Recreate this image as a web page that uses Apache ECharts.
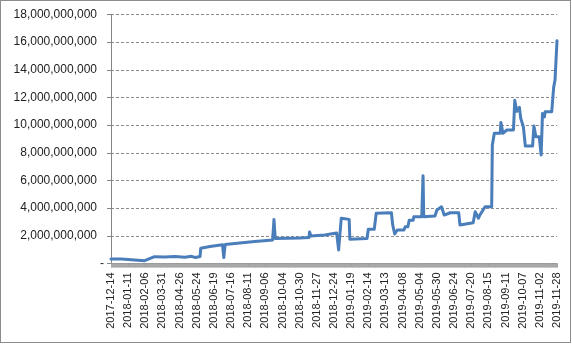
<!DOCTYPE html>
<html>
<head>
<meta charset="utf-8">
<script src="https://cdn.jsdelivr.net/npm/echarts@6/dist/echarts.min.js"></script>
<style>
html,body{margin:0;padding:0;background:#fff;}
#c{position:absolute;left:0;top:0;width:572px;height:344px;}
#b{position:absolute;left:0;top:0;width:569px;height:341px;border:1px solid #8c8c8c;pointer-events:none;}
</style>
</head>
<body>
<div id="c"></div>
<div id="b"></div>
<script>
// Tick labels (every 26th trading-day category)
const tickLabels = ['2017-12-14','2018-01-11','2018-02-06','2018-03-31','2018-04-26','2018-05-24','2018-06-19','2018-07-16','2018-08-11','2018-09-06','2018-10-04','2018-10-30','2018-11-27','2018-12-24','2019-01-19','2019-02-14','2019-03-13','2019-04-08','2019-05-04','2019-05-30','2019-06-24','2019-07-20','2019-08-15','2019-09-11','2019-10-07','2019-11-02','2019-11-28'];
const labelStep = 26;
const lastIndex = 676;
// Category index of each line vertex
const pointIndex = [0,16,19,51,66,81,97,112,122,128,135,136,150,169,171,173,195,218,245,247,249,286,300,301,303,324,342,345,349,361,362,388,390,399,402,425,427,430,434,444,446,450,452,458,459,471,473,474,491,494,501,505,514,527,529,549,552,557,559,567,577,578,581,590,591,594,600,610,612,615,619,621,625,628,639,641,644,649,652,654,657,658,668,671,673,676];
// Value at each vertex (millions)
const valueM = [320,320,200,200,490,470,510,450,520,430,510,1100,1230,1350,430,1370,1480,1590,1700,3180,1810,1840,1880,2280,1990,2060,2200,980,3270,3190,1750,1810,2470,2470,3630,3670,2780,2130,2420,2420,2660,2660,3130,3130,3380,3380,6350,3380,3430,3870,4100,3500,3670,3670,2780,2950,3740,3270,3500,4100,4100,8570,9410,9410,10200,9410,9650,9650,11800,11000,11290,10500,9890,8490,8490,9940,9170,9170,7840,10850,10600,10970,10970,12750,13260,16100];

const seriesData = pointIndex.map((x, i) => [x, valueM[i] * 1e6]);
const font = "'Liberation Sans', Arial, sans-serif";
const chart = echarts.init(document.getElementById('c'), null, {renderer: 'canvas'});
chart.setOption({
  animation: false,
  backgroundColor: '#ffffff',
  grid: {left: 111, right: 15, top: 14.5, bottom: 80.5, containLabel: false},
  xAxis: {
    type: 'value', min: 0, max: lastIndex, interval: labelStep,
    splitLine: {show: false},
    axisLine: {show: true, lineStyle: {color: '#868686', width: 1}},
    axisTick: {show: true, length: 4, lineStyle: {color: '#a0a0a0'}},
    minorTick: {show: true, splitNumber: labelStep, length: 4, lineStyle: {color: '#a8a8a8'}},
    axisLabel: {
      rotate: 90, margin: 9, fontFamily: font, fontSize: 11, color: '#222',
      showMinLabel: true, showMaxLabel: true,
      formatter: v => tickLabels[Math.round(v / labelStep)] || ''
    }
  },
  yAxis: {
    type: 'value', min: 0, max: 18e9, interval: 2e9,
    axisLine: {show: true, lineStyle: {color: '#868686'}},
    axisTick: {show: true, length: 4, lineStyle: {color: '#868686'}},
    splitLine: {show: true, lineStyle: {color: '#8c8c8c', type: [3, 2], width: 1}},
    axisLabel: {
      margin: 14, fontFamily: font, fontSize: 12, color: '#222',
      formatter: v => v === 0 ? '{z|-}' : Math.round(v).toString().replace(/\B(?=(\d{3})+(?!\d))/g, ','),
      rich: {z: {fontFamily: font, fontSize: 12, color: '#222', padding: [0, -7, 0, 0]}}
    }
  },
  series: [{
    type: 'line', data: seriesData, showSymbol: false, smooth: false,
    lineStyle: {color: '#4a7ebb', width: 3, cap: 'round', join: 'round'}
  }]
});
</script>
</body>
</html>
